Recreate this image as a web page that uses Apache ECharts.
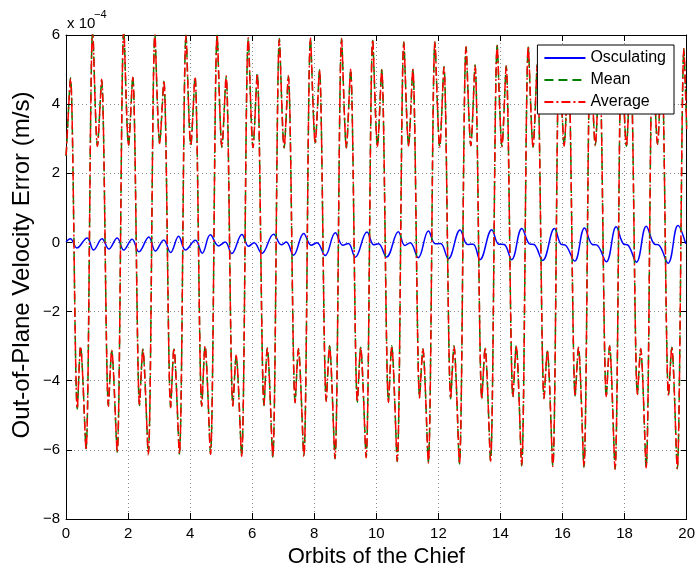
<!DOCTYPE html>
<html>
<head>
<meta charset="utf-8">
<script src="https://cdn.jsdelivr.net/npm/echarts@6/dist/echarts.min.js"></script>
<style>
  html, body { margin: 0; padding: 0; background: #fff; }
  #chart { width: 698px; height: 573px; }
</style>
</head>
<body>
<div id="chart"></div>
<script>
// Out-of-plane relative velocity error over 20 orbits of the chief (values in 1e-4 m/s).

// Mean / Average: six characteristic points per orbit, at these phases of each orbit.
const ORBIT_PERIOD = 1.0027;
const featurePhase = [0.01, 0.145, 0.365, 0.47, 0.645, 0.86];

const meanDip       = [2.6, 2.8, 2.8, 2.88, 2.8, 2.75, 2.75, 2.73, 2.88, 2.73, 2.78, 2.8, 2.75, 2.8, 2.78, 2.75, 2.8, 2.8, 2.78, 2.85];
const meanSecPeak   = [4.76, 4.7, 4.8, 4.66, 4.8, 4.8, 4.9, 4.8, 5.0, 5.0, 5.0, 5.0, 5.09, 5.14, 5.1, 5.15, 5.15, 5.2, 5.2, 5.2];
const meanSecTrough = [-4.82, -4.72, -4.72, -4.77, -4.74, -4.72, -4.72, -4.63, -4.58, -4.62, -4.62, -4.48, -4.52, -4.52, -4.48, -4.5, -4.44, -4.47, -4.39, -4.42];
const meanHump      = [-2.99, -3.14, -3.08, -3.08, -2.99, -3.28, -3.05, -3.08, -2.99, -3.03, -2.99, -3.08, -2.99, -3.06, -2.99, -3.14, -3.03, -2.99, -3.08, -3.03];
const meanTrough    = [-5.97, -6.07, -6.12, -6.12, -6.12, -6.17, -6.21, -6.17, -6.26, -6.21, -6.34, -6.36, -6.41, -6.31, -6.46, -6.46, -6.5, -6.55, -6.5, -6.55];
const meanPeak      = [6.15, 6.15, 6.0, 6.0, 6.0, 5.9, 5.9, 5.9, 5.9, 5.85, 5.8, 5.8, 5.65, 5.7, 5.65, 5.65, 5.6, 5.6, 5.6, 5.6];
const meanEnds      = [2.5, 3.3];

const avgDip       = [2.62, 2.78, 2.82, 2.86, 2.8, 2.76, 2.74, 2.75, 2.86, 2.74, 2.78, 2.79, 2.76, 2.8, 2.77, 2.76, 2.79, 2.81, 2.78, 2.84];
const avgSecPeak   = [4.74, 4.72, 4.78, 4.68, 4.79, 4.82, 4.88, 4.82, 4.98, 5.01, 4.99, 5.02, 5.07, 5.12, 5.11, 5.14, 5.16, 5.18, 5.21, 5.19];
const avgSecTrough = [-4.8, -4.74, -4.7, -4.78, -4.73, -4.74, -4.7, -4.64, -4.6, -4.61, -4.63, -4.5, -4.51, -4.53, -4.47, -4.52, -4.45, -4.46, -4.4, -4.43];
const avgHump      = [-3.01, -3.12, -3.1, -3.06, -3.0, -3.26, -3.06, -3.07, -3.0, -3.04, -3.0, -3.07, -3.0, -3.05, -3.0, -3.12, -3.04, -3.0, -3.07, -3.04];
const avgTrough    = [-5.99, -6.05, -6.14, -6.1, -6.13, -6.19, -6.2, -6.19, -6.25, -6.23, -6.33, -6.38, -6.4, -6.33, -6.45, -6.48, -6.49, -6.56, -6.52, -6.54];
const avgPeak      = [6.15, 6.15, 6.02, 5.98, 6.01, 5.92, 5.88, 5.91, 5.89, 5.86, 5.79, 5.81, 5.66, 5.69, 5.66, 5.64, 5.61, 5.59, 5.61, 5.6];
const avgEnds      = [2.52, 3.28];

// Osculating: four turning points per orbit (time in orbits, value).
const oscATime = [0.14, 1.16, 2.13, 3.15, 4.17, 5.13, 6.06, 7.10, 8.09, 9.10, 10.07, 11.09, 12.07, 13.12, 14.12, 15.08, 16.10, 17.10, 18.10, 19.10];
const oscA     = [0.11, 0.11, 0.09, 0.07, 0.06, 0.01, -0.01, 0.01, -0.01, -0.03, -0.04, -0.01, -0.03, -0.05, -0.06, -0.06, -0.08, -0.07, -0.07, -0.07];
const oscBTime = [0.35, 1.38, 2.35, 3.37, 4.39, 5.34, 6.31, 7.33, 8.35, 9.32, 10.33, 11.35, 12.32, 13.34, 14.36, 15.36, 16.39, 17.41, 18.38, 19.40];
const oscB     = [-0.16, -0.19, -0.27, -0.29, -0.31, -0.32, -0.32, -0.37, -0.38, -0.43, -0.42, -0.44, -0.47, -0.5, -0.5, -0.52, -0.54, -0.56, -0.57, -0.6];
const oscCTime = [0.68, 1.65, 2.67, 3.63, 4.65, 5.67, 6.69, 7.66, 8.68, 9.70, 10.71, 11.68, 12.70, 13.72, 14.69, 15.74, 16.71, 17.73, 18.70, 19.72];
const oscC     = [0.13, 0.13, 0.16, 0.18, 0.22, 0.23, 0.24, 0.26, 0.28, 0.3, 0.31, 0.33, 0.36, 0.37, 0.4, 0.4, 0.42, 0.45, 0.47, 0.49];
const oscDTime = [0.89, 1.86, 2.88, 3.85, 4.92, 5.88, 6.94, 7.90, 8.92, 9.92, 10.92, 11.90, 12.94, 13.94, 14.95, 15.95, 16.96, 17.97, 18.96, 19.97];
const oscD     = [-0.22, -0.22, -0.25, -0.22, -0.1, -0.11, -0.07, -0.08, -0.08, -0.07, -0.09, -0.04, -0.06, -0.05, -0.05, -0.05, -0.06, -0.05, -0.05, -0.04];
const oscStart = 0.02;

const seriesNames = ['Osculating', 'Mean', 'Average'];
const X_RANGE = [0, 20, 2];
const Y_RANGE = [-8, 6, 2];
const X_TITLE = 'Orbits of the Chief';
const Y_TITLE = 'Out-of-Plane Velocity Error (m/s)';

function orbitTrack(features, ends) {
  const pts = [[X_RANGE[0], ends[0]]];
  for (let n = 0; n < features[0].length; n++) {
    features.forEach((arr, k) => pts.push([n * ORBIT_PERIOD + featurePhase[k], arr[n]]));
  }
  pts.push([X_RANGE[1], ends[1]]);
  return pts;
}

function oscTrack() {
  const pts = [[X_RANGE[0], oscStart]];
  for (let n = 0; n < oscA.length; n++) {
    pts.push([oscATime[n], oscA[n]], [oscBTime[n], oscB[n]], [oscCTime[n], oscC[n]], [oscDTime[n], oscD[n]]);
  }
  return pts;
}

const FONT = '"Liberation Sans", Arial, Helvetica, sans-serif';
const minus = v => (v < 0 ? '\u2212' + Math.abs(v) : String(v));

const gridLine = { show: true, lineStyle: { color: '#8c8c8c', type: [1, 3], width: 1 } };
const boxLine = { show: true, onZero: false, lineStyle: { color: '#000', width: 1 } };
const tick = { show: true, inside: true, length: 6, lineStyle: { color: '#000' } };

const chart = echarts.init(document.getElementById('chart'), null, { renderer: 'canvas' });
chart.setOption({
  animation: false,
  backgroundColor: '#fff',
  textStyle: { fontFamily: FONT },
  grid: { left: 66, right: 11, top: 35, bottom: 53 },
  xAxis: [
    {
      type: 'value', min: X_RANGE[0], max: X_RANGE[1], interval: X_RANGE[2], position: 'bottom',
      axisLine: boxLine, axisTick: tick, splitLine: gridLine,
      axisLabel: { color: '#000', fontSize: 15, margin: 7, fontFamily: FONT },
      name: X_TITLE, nameLocation: 'middle', nameGap: 27,
      nameTextStyle: { color: '#000', fontSize: 22, fontFamily: FONT }
    },
    {
      type: 'value', min: X_RANGE[0], max: X_RANGE[1], interval: X_RANGE[2], position: 'top',
      axisLine: boxLine, axisTick: tick, splitLine: { show: false }, axisLabel: { show: false }
    }
  ],
  yAxis: [
    {
      type: 'value', min: Y_RANGE[0], max: Y_RANGE[1], interval: Y_RANGE[2], position: 'left',
      axisLine: boxLine, axisTick: tick, splitLine: gridLine,
      axisLabel: { color: '#000', fontSize: 15, margin: 6, fontFamily: FONT, formatter: minus }
    },
    {
      type: 'value', min: Y_RANGE[0], max: Y_RANGE[1], interval: Y_RANGE[2], position: 'right',
      axisLine: boxLine, axisTick: tick, splitLine: { show: false }, axisLabel: { show: false }
    }
  ],
  legend: {
    orient: 'vertical', right: 24, top: 45, z: 20, zlevel: 0,
    backgroundColor: '#fff', borderColor: '#000', borderWidth: 1,
    padding: [5, 8, 4, 6], itemWidth: 41, itemHeight: 15, itemGap: 6,
    itemStyle: { opacity: 0 },
    textStyle: { color: '#000', fontSize: 16, fontFamily: FONT },
    data: seriesNames
  },
  graphic: [
    { type: 'text', left: 67, top: 16, style: { text: 'x 10', font: '15px ' + FONT, fill: '#000' } },
    { type: 'text', left: 94, top: 9, style: { text: '\u22124', font: '11px ' + FONT, fill: '#000' } },
    {
      type: 'text', x: 22, y: 265, rotation: Math.PI / 2,
      style: { text: Y_TITLE, font: '24px ' + FONT, fill: '#000', align: 'center', verticalAlign: 'middle' }
    }
  ],
  series: [
    {
      name: seriesNames[0], type: 'line', data: oscTrack(), symbol: 'none', smooth: 0.4,
      lineStyle: { color: '#0000ff', width: 1.5 }, itemStyle: { color: '#0000ff' }, z: 2
    },
    {
      name: seriesNames[1], type: 'line', symbol: 'none', smooth: 0.3,
      data: orbitTrack([meanDip, meanSecPeak, meanSecTrough, meanHump, meanTrough, meanPeak], meanEnds),
      lineStyle: { color: '#008000', width: 1.5, type: [9, 5] }, itemStyle: { color: '#008000' }, z: 3
    },
    {
      name: seriesNames[2], type: 'line', symbol: 'none', smooth: 0.3,
      data: orbitTrack([avgDip, avgSecPeak, avgSecTrough, avgHump, avgTrough, avgPeak], avgEnds),
      lineStyle: { color: '#ff0000', width: 1.5, type: [9, 3, 2, 3] }, itemStyle: { color: '#ff0000' }, z: 4
    }
  ]
});
</script>
</body>
</html>
